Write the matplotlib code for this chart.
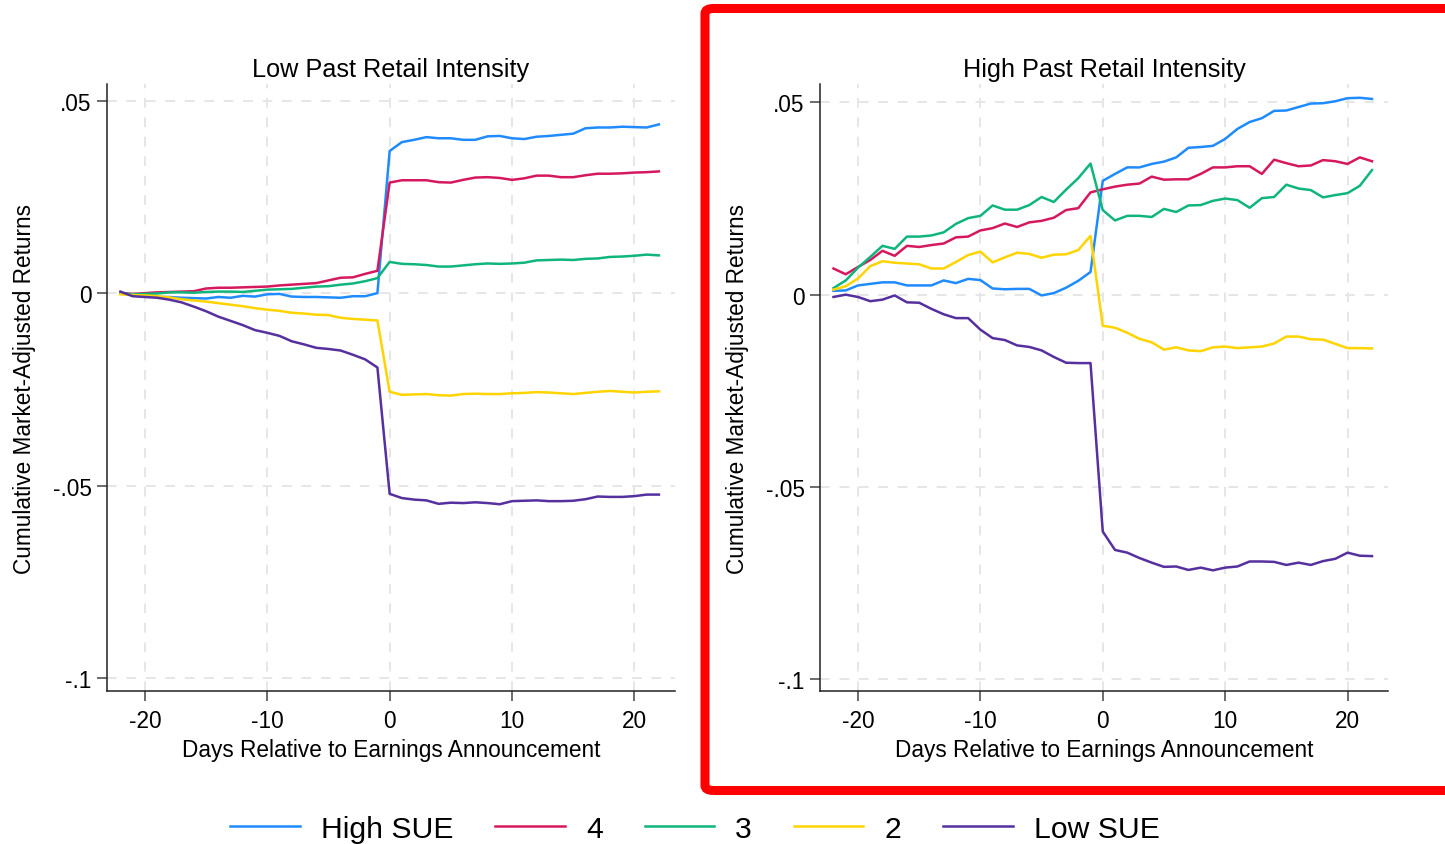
import numpy as np
import matplotlib
matplotlib.use("Agg")
import matplotlib.pyplot as plt
from matplotlib.patches import FancyBboxPatch

plt.rcParams['font.family'] = ['Liberation Sans', 'DejaVu Sans']

days = np.arange(-22, 23)

# Low past retail intensity panel
low_high = [0.000, -0.0005, -0.0008, -0.001, -0.001, -0.0012, -0.0013, -0.0014, -0.001, -0.0012, -0.0007,
            -0.0009, -0.0003, -0.0002, -0.0009, -0.001, -0.001, -0.0011, -0.0012, -0.0008, -0.0008, 0.0000,
            0.0369, 0.0392, 0.0398, 0.0405, 0.0402, 0.0402, 0.0398, 0.0398, 0.0407, 0.0408, 0.0402, 0.0400,
            0.0406, 0.0408, 0.0411, 0.0414, 0.0428, 0.0430, 0.0430, 0.0432, 0.0431, 0.0430, 0.0438]
low_q4 = [0.000, -0.0002, 0.000, 0.0002, 0.0003, 0.0004, 0.0005, 0.0012, 0.0014, 0.0014, 0.0015, 0.0016,
          0.0017, 0.0020, 0.0022, 0.0024, 0.0026, 0.0033, 0.0040, 0.0041, 0.0050, 0.0058,
          0.0287, 0.0293, 0.0293, 0.0293, 0.0288, 0.0287, 0.0294, 0.0300, 0.0301, 0.0299, 0.0294, 0.0298,
          0.0305, 0.0305, 0.0301, 0.0301, 0.0306, 0.0310, 0.0310, 0.0311, 0.0313, 0.0314, 0.0316]
low_q3 = [0.000, -0.0003, -0.0002, -0.0001, 0.0002, 0.0002, 0.0001, 0.0003, 0.0004, 0.0004, 0.0003, 0.0006,
          0.0009, 0.0010, 0.0011, 0.0014, 0.0017, 0.0018, 0.0022, 0.0025, 0.0031, 0.0039,
          0.0081, 0.0076, 0.0075, 0.0073, 0.0069, 0.0069, 0.0072, 0.0075, 0.0077, 0.0076, 0.0077, 0.0079,
          0.0085, 0.0086, 0.0087, 0.0086, 0.0089, 0.0090, 0.0094, 0.0095, 0.0097, 0.0100, 0.0098]
low_q2 = [-0.0003, -0.0005, -0.0006, -0.0008, -0.0011, -0.0016, -0.0019, -0.0022, -0.0026, -0.0030, -0.0034,
          -0.0039, -0.0043, -0.0046, -0.0051, -0.0053, -0.0056, -0.0057, -0.0064, -0.0067, -0.0069, -0.0071,
          -0.0256, -0.0264, -0.0263, -0.0262, -0.0265, -0.0266, -0.0262, -0.0261, -0.0262, -0.0262, -0.0260,
          -0.0259, -0.0257, -0.0258, -0.0260, -0.0262, -0.0259, -0.0256, -0.0254, -0.0256, -0.0258, -0.0256, -0.0255]
low_low = [0.0004, -0.0008, -0.0010, -0.0012, -0.0017, -0.0024, -0.0035, -0.0047, -0.0061, -0.0072, -0.0083,
           -0.0096, -0.0103, -0.0111, -0.0125, -0.0133, -0.0142, -0.0145, -0.0149, -0.0160, -0.0172, -0.0193,
           -0.0521, -0.0532, -0.0536, -0.0538, -0.0547, -0.0544, -0.0545, -0.0543, -0.0545, -0.0548, -0.0540,
           -0.0539, -0.0538, -0.0540, -0.0540, -0.0539, -0.0535, -0.0528, -0.0529, -0.0529, -0.0527, -0.0523, -0.0523]

# High past retail intensity panel
high_high = [0.0010, 0.0011, 0.0024, 0.0028, 0.0032, 0.0032, 0.0024, 0.0024, 0.0024, 0.0037, 0.0030, 0.0041,
             0.0038, 0.0016, 0.0014, 0.0015, 0.0015, -0.0002, 0.0004, 0.0018, 0.0036, 0.0059,
             0.0296, 0.0314, 0.0331, 0.0331, 0.0340, 0.0346, 0.0357, 0.0382, 0.0384, 0.0387, 0.0405, 0.0431,
             0.0449, 0.0459, 0.0478, 0.0479, 0.0488, 0.0497, 0.0498, 0.0503, 0.0511, 0.0512, 0.0509]
high_q4 = [0.0068, 0.0053, 0.0072, 0.0090, 0.0114, 0.0101, 0.0127, 0.0124, 0.0129, 0.0133, 0.0149, 0.0151,
           0.0167, 0.0173, 0.0185, 0.0176, 0.0188, 0.0192, 0.0200, 0.0220, 0.0225, 0.0266,
           0.0274, 0.0281, 0.0286, 0.0289, 0.0307, 0.0299, 0.0300, 0.0300, 0.0314, 0.0331, 0.0331, 0.0334,
           0.0334, 0.0314, 0.0351, 0.0342, 0.0334, 0.0336, 0.0350, 0.0347, 0.0340, 0.0357, 0.0347]
high_q3 = [0.0017, 0.0037, 0.0070, 0.0098, 0.0127, 0.0119, 0.0151, 0.0151, 0.0154, 0.0162, 0.0184, 0.0199,
           0.0205, 0.0232, 0.0221, 0.0221, 0.0233, 0.0254, 0.0241, 0.0273, 0.0303, 0.0341,
           0.0220, 0.0193, 0.0205, 0.0205, 0.0202, 0.0223, 0.0215, 0.0232, 0.0233, 0.0244, 0.0250, 0.0246,
           0.0226, 0.0251, 0.0254, 0.0286, 0.0276, 0.0272, 0.0253, 0.0259, 0.0264, 0.0283, 0.0324]
high_q2 = [0.0013, 0.0022, 0.0042, 0.0074, 0.0087, 0.0083, 0.0081, 0.0079, 0.0068, 0.0068, 0.0085, 0.0103,
           0.0112, 0.0084, 0.0097, 0.0109, 0.0106, 0.0096, 0.0104, 0.0105, 0.0116, 0.0153,
           -0.0081, -0.0086, -0.0099, -0.0115, -0.0124, -0.0143, -0.0137, -0.0145, -0.0147, -0.0137, -0.0135,
           -0.0139, -0.0137, -0.0135, -0.0127, -0.0109, -0.0109, -0.0116, -0.0117, -0.0128, -0.0139, -0.0139, -0.0140]
high_low = [-0.0006, 0.0000, -0.0006, -0.0017, -0.0013, -0.0002, -0.0020, -0.0021, -0.0037, -0.0051, -0.0061,
            -0.0061, -0.0091, -0.0113, -0.0118, -0.0132, -0.0136, -0.0145, -0.0162, -0.0177, -0.0178, -0.0178,
            -0.0616, -0.0664, -0.0671, -0.0685, -0.0697, -0.0708, -0.0707, -0.0716, -0.0710, -0.0717, -0.0710,
            -0.0707, -0.0694, -0.0694, -0.0695, -0.0703, -0.0697, -0.0703, -0.0693, -0.0687, -0.0671, -0.0679, -0.0680]

series_names = ['High SUE', '4', '3', '2', 'Low SUE']
colors = ['#1f8bff', '#d6185e', '#10b57c', '#ffd400', '#55309e']
yticks = [0.05, 0, -0.05, -0.1]
ytick_labels = ['.05', '0', '-.05', '-.1']
xticks = [-20, -10, 0, 10, 20]
xtick_labels = ['-20', '-10', '0', '10', '20']

panels = [
    ("Low Past Retail Intensity", [low_high, low_q4, low_q3, low_q2, low_low], (-0.1033, 0.0542)),
    ("High Past Retail Intensity", [high_high, high_q4, high_q3, high_q2, high_low], (-0.1031, 0.0547)),
]
positions = [[0.0740, 0.181, 0.393, 0.718], [0.5675, 0.181, 0.393, 0.718]]

fig = plt.figure(figsize=(14.45, 8.45), dpi=100)
fs = 16.3

for (title, data, ylim), pos in zip(panels, positions):
    ax = fig.add_axes(pos)
    for vals, name, c in zip(data, series_names, colors):
        ax.plot(days, vals, color=c, lw=1.8, label=name)
    ax.set_xlim(-23.1, 23.3)
    ax.set_ylim(*ylim)
    ax.set_xticks(xticks)
    ax.set_xticklabels(xtick_labels)
    ax.set_yticks(yticks)
    ax.set_yticklabels(ytick_labels)
    ax.grid(True, color='#e6e6e6', linestyle=(0, (5, 5)), lw=1.4)
    ax.set_axisbelow(True)
    for s in ['top', 'right']:
        ax.spines[s].set_visible(False)
    for s in ['left', 'bottom']:
        ax.spines[s].set_color('#222222')
        ax.spines[s].set_linewidth(1.1)
    ax.tick_params(axis='both', length=7, width=1.1, color='#444444', labelsize=fs)
    ax.tick_params(axis='x', pad=6)
    ax.tick_params(axis='y', pad=4)
    ax.set_title(title, fontsize=18.2, pad=6)
    ax.set_xlabel('Days Relative to Earnings Announcement', fontsize=fs, labelpad=4)
    ax.set_ylabel('Cumulative Market-Adjusted Returns', fontsize=fs, labelpad=12)

handles, labels = ax.get_legend_handles_labels()
fig.legend(handles, labels, loc='center', bbox_to_anchor=(695 / 1445, 0.018), ncol=5,
           frameon=False, fontsize=21.7, handlelength=2.3, handletextpad=0.7, columnspacing=1.4)

# red highlight box around the right panel
box = FancyBboxPatch((705 / 1445, 1 - 791.5 / 845), 0.6, (791.5 - 9.5) / 845,
                     boxstyle='round,pad=0,rounding_size=0.006', transform=fig.transFigure,
                     fill=False, edgecolor='#ff0000', lw=6.5, clip_on=False)
fig.patches.append(box)

fig.savefig('out.png', dpi=100)
